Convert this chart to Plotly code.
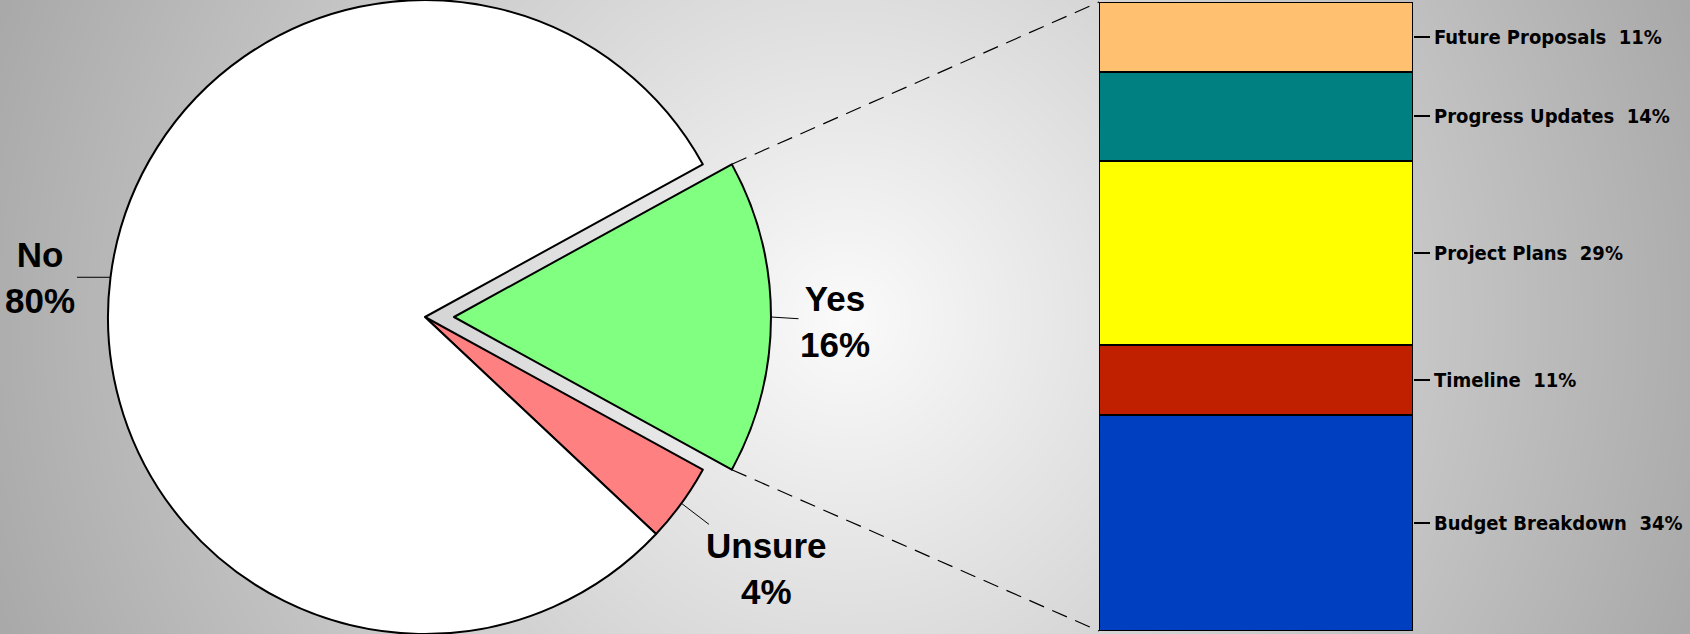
import base64
import math
import struct
import zlib

import numpy as np
import plotly.graph_objects as go

# pie data (clockwise, starting with the exploded slice)
pie_labels = ['Yes', 'Unsure', 'No']
pie_values = [16, 4, 80]
pie_colors = ['#80FF80', '#FF8080', '#FFFFFF']

# breakdown of "Yes", bottom to top
bar_labels = ['Budget Breakdown', 'Timeline', 'Project Plans', 'Progress Updates', 'Future Proposals']
bar_values = [34, 11, 29, 14, 11]
bar_colors = ['#0040C0', '#C02000', '#FFFF00', '#008080', '#FFC070']

W, H = 1690, 634
CLEAR = 'rgba(0,0,0,0)'


def gradient_png(w, h):
    # grey radial background, light in the middle
    ys, xs = np.mgrid[0:h, 0:w]
    d = np.hypot(xs - w * 0.5, ys - h * 0.5) / np.hypot(w * 0.5, h * 0.5)
    g = (251 - 82 * d).clip(0, 255).astype(np.uint8)
    raw = b''.join(b'\x00' + row.tobytes() for row in g)

    def chunk(tag, data):
        body = tag + data
        return struct.pack('>I', len(data)) + body + struct.pack('>I', zlib.crc32(body) & 0xffffffff)

    png = (b'\x89PNG\r\n\x1a\n'
           + chunk(b'IHDR', struct.pack('>IIBBBBB', w, h, 8, 0, 0, 0, 0))
           + chunk(b'IDAT', zlib.compress(raw, 9))
           + chunk(b'IEND', b''))
    return 'data:image/png;base64,' + base64.b64encode(png).decode()


# pie geometry in pixels
R = H / 2
cx, cy = 425, H / 2
pull_px = 29
total = sum(pie_values)
rotation = 90 - pie_values[0] / total * 360 / 2


def to_paper(px, py):
    return px / W, 1 - py / H


def on_circle(ang, ox=0, oy=0):
    a = math.radians(ang)
    return cx + ox + R * math.sin(a), cy + oy - R * math.cos(a)


starts, a = [], rotation
for v in pie_values:
    starts.append(a)
    a += v / total * 360
mids = [s + v / total * 180 for s, v in zip(starts, pie_values)]

yes_dx = pull_px * math.sin(math.radians(mids[0]))
yes_dy = -pull_px * math.cos(math.radians(mids[0]))

dom_x = [(cx - R) / W, (cx + R) / W]
dom_y = [0, 1]

fig = go.Figure()

# whole pie without the exploded slice
fig.add_trace(go.Pie(
    labels=pie_labels, values=pie_values, sort=False, direction='clockwise', rotation=rotation,
    marker=dict(colors=[CLEAR] + pie_colors[1:], line=dict(color='black', width=[0, 2, 2])),
    textinfo='none', hoverinfo='label+percent', domain=dict(x=dom_x, y=dom_y), showlegend=False,
))
# exploded slice, same pie shifted
fig.add_trace(go.Pie(
    labels=pie_labels, values=pie_values, sort=False, direction='clockwise', rotation=rotation,
    marker=dict(colors=[pie_colors[0], CLEAR, CLEAR], line=dict(color='black', width=[2, 0, 0])),
    textinfo='none', hoverinfo='label+percent',
    domain=dict(x=[dom_x[0] + yes_dx / W, dom_x[1] + yes_dx / W], y=[dom_y[0] - yes_dy / H, dom_y[1] - yes_dy / H]),
    showlegend=False,
))

# stacked breakdown bar
for lab, v, c in zip(bar_labels, bar_values, bar_colors):
    fig.add_trace(go.Bar(
        x=[''], y=[v], name=lab, marker=dict(color=c, line=dict(color='black', width=2.5)),
        xaxis='x', yaxis='y', showlegend=False, hoverinfo='name+y',
    ))

bar_total = sum(bar_values)
tick_vals, acc = [], 0
for v in bar_values:
    tick_vals.append(acc + v / 2)
    acc += v
tick_text = [f'{lab}\u00a0\u00a0{v}%' for lab, v in zip(bar_labels, bar_values)]

bar_x0, bar_x1 = 1099 / W, 1413 / W
bar_y0, bar_y1 = 3 / H, 1 - 2 / H

# pie labels with leader lines
label_offsets = [(64, 4), (85, 65), (-70, 0)]
annotations = []
for i, (lab, v) in enumerate(zip(pie_labels, pie_values)):
    if i == 0:
        px, py = on_circle(mids[i], yes_dx, yes_dy)
    else:
        px, py = on_circle(mids[i])
    x, y = to_paper(px, py)
    ax, ay = label_offsets[i]
    annotations.append(dict(
        x=x, y=y, xref='paper', yref='paper', text=f'<b>{lab}<br>{round(v / total * 100)}%</b>',
        showarrow=True, arrowhead=0, arrowwidth=1, arrowcolor='black', ax=ax, ay=ay,
        font=dict(family='Liberation Sans, Arial, sans-serif', size=35, color='black'), align='center',
    ))

# dashed connectors from the exploded slice to the bar
shapes = []
for ang, by in [(starts[0], bar_y1), (starts[0] + pie_values[0] / total * 360, bar_y0)]:
    px, py = on_circle(ang, yes_dx, yes_dy)
    x, y = to_paper(px, py)
    shapes.append(dict(type='line', xref='paper', yref='paper', x0=x, y0=y, x1=bar_x0, y1=by,
                       line=dict(color='black', width=1.2, dash='16px,9px')))

fig.update_layout(
    width=W, height=H,
    margin=dict(l=0, r=0, t=0, b=0, autoexpand=False),
    paper_bgcolor='#c8c8c8', plot_bgcolor=CLEAR,
    barmode='stack', bargap=0,
    xaxis=dict(domain=[bar_x0, bar_x1], visible=False, fixedrange=True, automargin=False),
    yaxis=dict(
        domain=[bar_y0, bar_y1], range=[0, bar_total], side='right', anchor='x', automargin=False,
        tickvals=tick_vals, ticktext=tick_text, ticks='outside', ticklen=16, tickwidth=1.5,
        tickcolor='black', showgrid=False, zeroline=False, showline=False, fixedrange=True,
        tickfont=dict(family='DejaVu Sans Condensed, sans-serif', size=20, color='black', weight='bold'),
    ),
    images=[dict(source=gradient_png(W // 2, H // 2), xref='paper', yref='paper', x=0, y=1,
                 sizex=1, sizey=1, sizing='stretch', layer='below')],
    annotations=annotations,
    shapes=shapes,
)

fig.write_html('out.html', config={'displayModeBar': False},
               post_script="document.body.style.margin='0';document.body.style.overflow='hidden';")
